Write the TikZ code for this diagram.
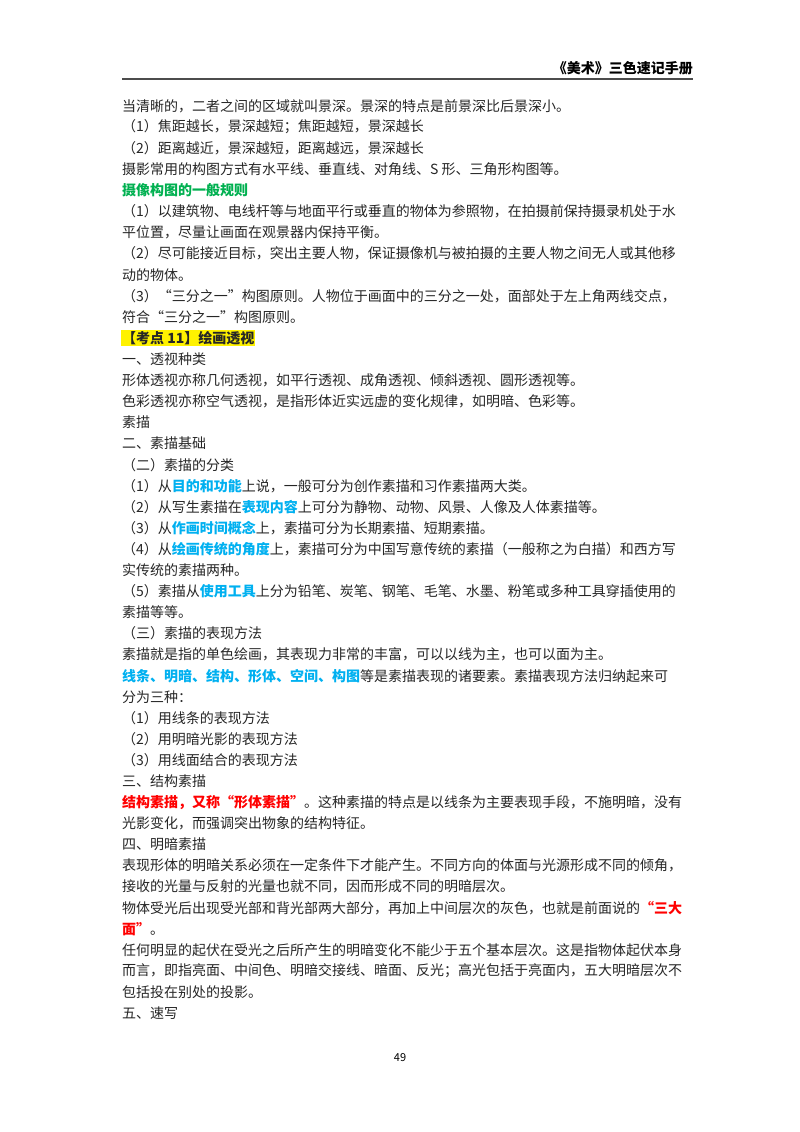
\documentclass[tikz,border=0pt]{standalone}
\usepackage{fontspec}
\setmainfont{Noto Sans CJK SC}
\usepackage{xcolor}
\usepackage{tikz}
\definecolor{KeyGreen}{HTML}{00B050}
\definecolor{KeyBlue}{HTML}{00B0F0}
\definecolor{KeyRed}{HTML}{FF0000}
\XeTeXlinebreaklocale "zh"
\XeTeXlinebreakskip=0pt plus 3pt
\newcommand{\body}{\fontsize{14}{17}\selectfont}
\newcommand{\kb}[1]{\textcolor{KeyBlue}{\textbf{#1}}}
\newcommand{\kr}[1]{\textcolor{KeyRed}{\textbf{#1}}}
\newcommand{\full}[1]{\makebox[571pt][s]{#1}}
\tikzset{
  line/.style={anchor=west, inner sep=0pt, font=\body, text=black!85},
  head/.style={anchor=east, inner sep=0pt, font=\body\bfseries}
}
\begin{document}
\begin{tikzpicture}[x=1pt,y=-1pt]
\useasboundingbox (0,0) rectangle (800,1132);
% header
\node[head] (title) at (693,68) {《美术》三色速记手册};
\coordinate (rl) at (122,79);
\coordinate (rr) at (693,79);
\draw[line width=1.2pt, black!70] (rl) -- (rr);
% body
\node[line] (l0) at (122,106.0) {当清晰的，二者之间的区域就叫景深。景深的特点是前景深比后景深小。};
\node[line] (l1) at (122,127.1) {（1）焦距越长，景深越短；焦距越短，景深越长};
\node[line] (l2) at (122,148.2) {（2）距离越近，景深越短，距离越远，景深越长};
\node[line] (l3) at (122,169.3) {摄影常用的构图方式有水平线、垂直线、对角线、S 形、三角形构图等。};
\node[line, text=KeyGreen, font=\body\bfseries] (l4) at (122,190.4) {摄像构图的一般规则};
\node[line] (l5) at (122,211.5) {\full{（1）以建筑物、电线杆等与地面平行或垂直的物体为参照物，在拍摄前保持摄录机处于水}};
\node[line] (l6) at (122,232.6) {平位置，尽量让画面在观景器内保持平衡。};
\node[line] (l7) at (122,253.7) {\full{（2）尽可能接近目标，突出主要人物，保证摄像机与被拍摄的主要人物之间无人或其他移}};
\node[line] (l8) at (122,274.8) {动的物体。};
\node[line] (l9) at (122,295.9) {\full{（3）“三分之一”构图原则。人物位于画面中的三分之一处，面部处于左上角两线交点，}};
\node[line] (l10) at (122,317.0) {符合“三分之一”构图原则。};
\node[line, fill=yellow, inner sep=1pt, font=\body\bfseries] (l11) at (121,338.1) {【考点 11】绘画透视};
\node[line] (l12) at (122,359.2) {一、透视种类};
\node[line] (l13) at (122,380.3) {形体透视亦称几何透视，如平行透视、成角透视、倾斜透视、圆形透视等。};
\node[line] (l14) at (122,401.4) {色彩透视亦称空气透视，是指形体近实远虚的变化规律，如明暗、色彩等。};
\node[line] (l15) at (122,422.5) {素描};
\node[line] (l16) at (122,443.6) {二、素描基础};
\node[line] (l17) at (122,464.7) {（二）素描的分类};
\node[line] (l18) at (122,485.8) {（1）从\kb{目的和功能}上说，一般可分为创作素描和习作素描两大类。};
\node[line] (l19) at (122,506.9) {（2）从写生素描在\kb{表现内容}上可分为静物、动物、风景、人像及人体素描等。};
\node[line] (l20) at (122,528.0) {（3）从\kb{作画时间概念}上，素描可分为长期素描、短期素描。};
\node[line] (l21) at (122,549.1) {\full{（4）从\kb{绘画传统的角度}上，素描可分为中国写意传统的素描（一般称之为白描）和西方写}};
\node[line] (l22) at (122,570.2) {实传统的素描两种。};
\node[line] (l23) at (122,591.3) {\full{（5）素描从\kb{使用工具}上分为铅笔、炭笔、钢笔、毛笔、水墨、粉笔或多种工具穿插使用的}};
\node[line] (l24) at (122,612.4) {素描等等。};
\node[line] (l25) at (122,633.5) {（三）素描的表现方法};
\node[line] (l26) at (122,654.6) {素描就是指的单色绘画，其表现力非常的丰富，可以以线为主，也可以面为主。};
\node[line] (l27) at (122,675.7) {\full{\kb{线条、明暗、结构、形体、空间、构图}等是素描表现的诸要素。素描表现方法归纳起来可}};
\node[line] (l28) at (122,696.8) {分为三种：};
\node[line] (l29) at (122,717.9) {（1）用线条的表现方法};
\node[line] (l30) at (122,739.0) {（2）用明暗光影的表现方法};
\node[line] (l31) at (122,760.1) {（3）用线面结合的表现方法};
\node[line] (l32) at (122,781.2) {三、结构素描};
\node[line] (l33) at (122,802.3) {\full{\kr{结构素描，又称“形体素描”}。这种素描的特点是以线条为主要表现手段，不施明暗，没有}};
\node[line] (l34) at (122,823.4) {光影变化，而强调突出物象的结构特征。};
\node[line] (l35) at (122,844.5) {四、明暗素描};
\node[line] (l36) at (122,865.6) {\full{表现形体的明暗关系必须在一定条件下才能产生。不同方向的体面与光源形成不同的倾角，}};
\node[line] (l37) at (122,886.7) {接收的光量与反射的光量也就不同，因而形成不同的明暗层次。};
\node[line] (l38) at (122,907.8) {\full{物体受光后出现受光部和背光部两大部分，再加上中间层次的灰色，也就是前面说的\kr{“三大}}};
\node[line] (l39) at (122,928.9) {\kr{面”}。};
\node[line] (l40) at (122,950.0) {\full{任何明显的起伏在受光之后所产生的明暗变化不能少于五个基本层次。这是指物体起伏本身}};
\node[line] (l41) at (122,971.1) {\full{而言，即指亮面、中间色、明暗交接线、暗面、反光；高光包括于亮面内，五大明暗层次不}};
\node[line] (l42) at (122,992.2) {包括投在别处的投影。};
\node[line] (l43) at (122,1013.3) {五、速写};
% page number
\node[inner sep=0pt, font=\fontsize{11}{13}\selectfont] (page) at (400,1058) {49};
\end{tikzpicture}
\end{document}
